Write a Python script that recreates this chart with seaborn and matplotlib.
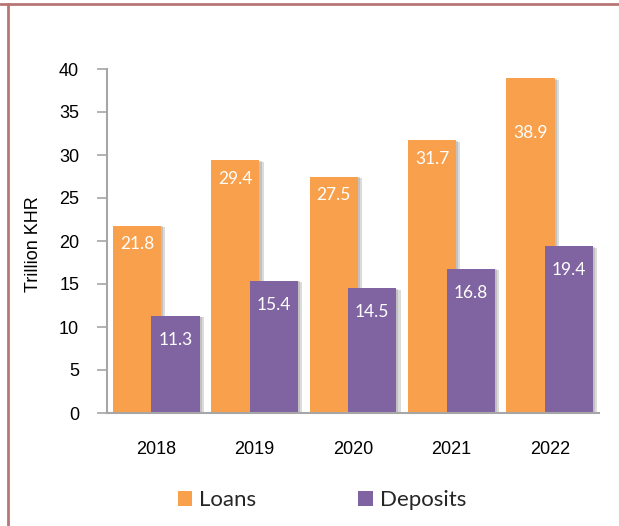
import matplotlib
matplotlib.use("Agg")
import matplotlib.pyplot as plt
import matplotlib.patheffects as pe
from matplotlib.lines import Line2D
from matplotlib.patches import Patch
import seaborn as sns
import pandas as pd

years = ["2018", "2019", "2020", "2021", "2022"]
loans = [21.8, 29.4, 27.5, 31.7, 38.9]
deposits = [11.3, 15.4, 14.5, 16.8, 19.4]
series_names = ["Loans", "Deposits"]
y_ticks = [0, 5, 10, 15, 20, 25, 30, 35, 40]
y_label = "Trillion KHR"

orange = "#F9A04C"
purple = "#8064A2"
label_drop_loans = [2.2, 2.2, 2.2, 2.2, 6.4]
label_drop_deps = [2.8, 2.8, 2.8, 2.8, 2.8]

df = pd.DataFrame({
    "Year": years * 2,
    "Value": loans + deposits,
    "Series": [series_names[0]] * len(years) + [series_names[1]] * len(years),
})

sns.set_theme(style="white")
arial = ["Liberation Sans", "DejaVu Sans"]
plt.rcParams["font.family"] = arial

fig = plt.figure(figsize=(6.19, 5.26), dpi=100)
ax = fig.add_axes([107 / 619, 1 - 413 / 526, 492 / 619, (413 - 69) / 526])

sns.barplot(data=df, x="Year", y="Value", hue="Series", order=years,
            hue_order=series_names, palette=[orange, purple],
            width=0.8, dodge=True, saturation=1, ax=ax, legend=False,
            errorbar=None)

new_w = 0.49
shadow = [pe.SimplePatchShadow(offset=(3, -1), shadow_rgbFace="#888888", alpha=0.3),
          pe.SimplePatchShadow(offset=(1.5, -0.5), shadow_rgbFace="#888888", alpha=0.3),
          pe.Normal()]
for p in ax.patches:
    cx = p.get_x() + p.get_width() / 2
    off = cx - round(cx)
    nc = round(cx) + (0.196 if off > 0 else -0.196)
    p.set_x(nc - new_w / 2)
    p.set_width(new_w)
    p.set_edgecolor("none")
    p.set_path_effects(shadow)

label_font = ["Lato", "DejaVu Sans"]
for i in range(len(years)):
    ax.text(i - 0.196, loans[i] - label_drop_loans[i], f"{loans[i]:.1f}",
            ha="center", va="center", color="white", fontsize=12.5,
            family=label_font)
    ax.text(i + 0.196, deposits[i] - label_drop_deps[i], f"{deposits[i]:.1f}",
            ha="center", va="center", color="white", fontsize=12.5,
            family=label_font)

ax.set_xlim(-0.5, 4.5)
ax.set_ylim(0, 40)
ax.set_yticks(y_ticks)
ax.set_xlabel("")
ax.set_ylabel(y_label, fontsize=13, color="black", family=arial)
ax.yaxis.set_label_coords(-0.133, 0.49)
for s in ["top", "right"]:
    ax.spines[s].set_visible(False)
for s in ["left", "bottom"]:
    ax.spines[s].set_color("#A6A6A6")
    ax.spines[s].set_linewidth(1.5)
ax.tick_params(axis="y", which="both", left=True, length=7, width=1.2,
               color="#A6A6A6", labelsize=13, pad=13, labelcolor="black")
ax.tick_params(axis="x", bottom=False, labelsize=13, pad=14, labelcolor="black")
for t in ax.get_xticklabels() + ax.get_yticklabels():
    t.set_family(arial)

handles = [Patch(facecolor=orange, edgecolor="none", label=series_names[0]),
           Patch(facecolor=purple, edgecolor="none", label=series_names[1])]
fig.legend(handles=handles, loc="center", bbox_to_anchor=(322 / 619, 1 - 500 / 526),
           ncol=2, frameon=False, handlelength=0.65, handleheight=0.65,
           handletextpad=0.3, columnspacing=4.6,
           prop={"family": label_font, "size": 16})

# page borders
fig.add_artist(Line2D([8 / 619, 8 / 619], [0, 1 - 4 / 526], color="#B87575", lw=2,
                      transform=fig.transFigure))
fig.add_artist(Line2D([0, 1], [1 - 4 / 526, 1 - 4 / 526], color="#B87575", lw=2,
                      transform=fig.transFigure))

fig.savefig("out.png", dpi=100)
